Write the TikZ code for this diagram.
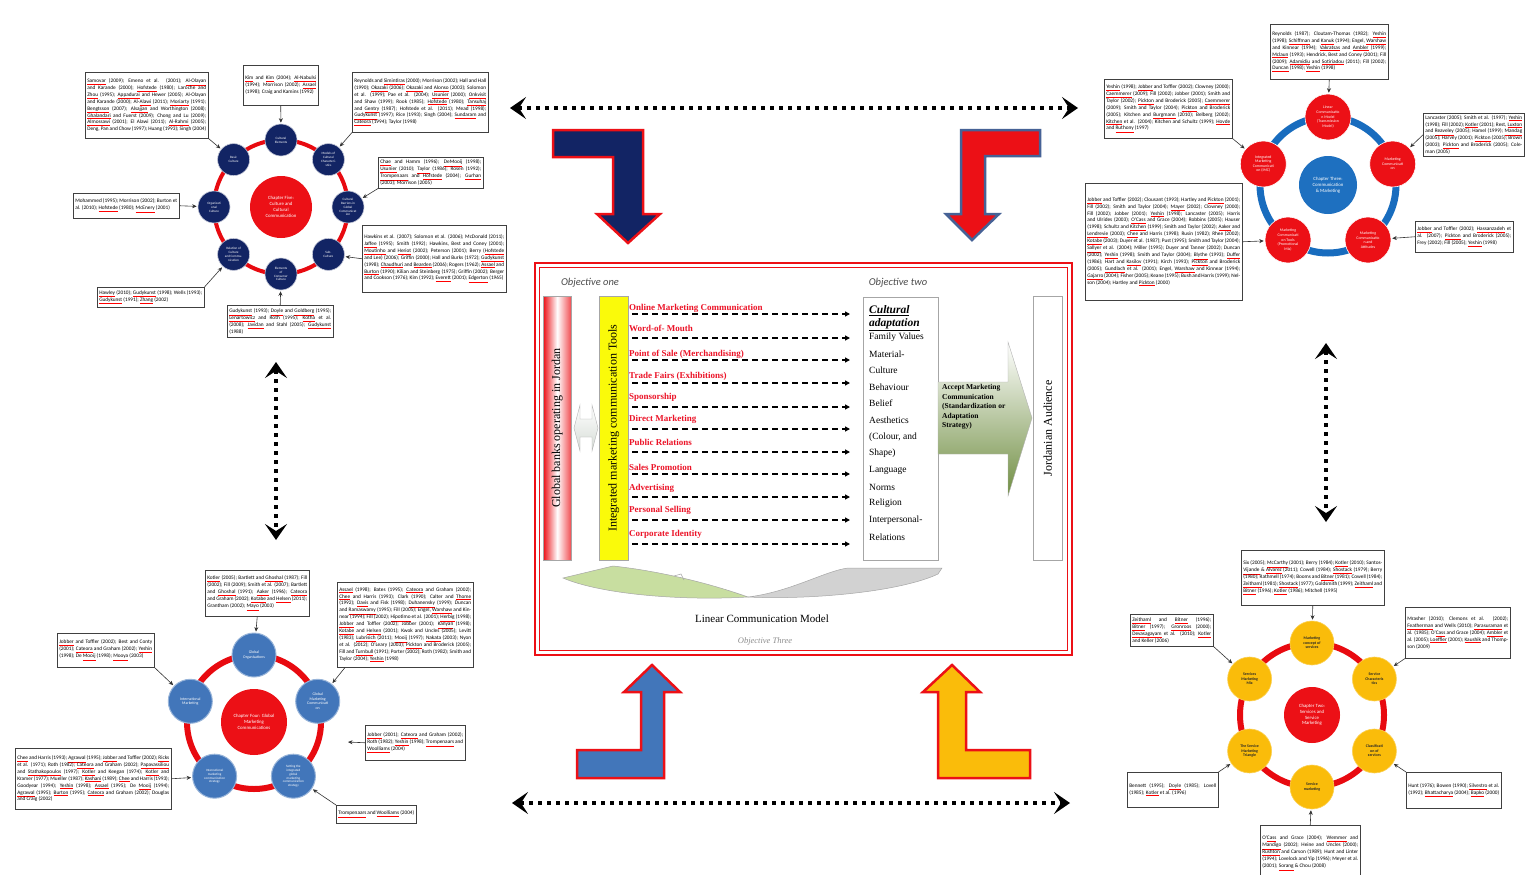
\documentclass[tikz,border=0pt]{standalone}
\usepackage{fontspec}
\setmainfont{Liberation Serif}
\newfontfamily\cfont{Carlito}
\usetikzlibrary{arrows.meta}

\definecolor{navyc}{RGB}{18,36,100}
\definecolor{redc}{RGB}{236,16,22}
\definecolor{ringred}{RGB}{232,10,16}
\definecolor{steelc}{RGB}{66,118,186}
\definecolor{ringblue}{RGB}{24,108,190}
\definecolor{coreblue}{RGB}{30,112,192}
\definecolor{goldc}{RGB}{250,188,10}
\definecolor{slateedge}{RGB}{70,98,150}
\definecolor{imcyellow}{RGB}{250,250,10}
\definecolor{leafgreen}{RGB}{200,222,160}
\definecolor{olivec}{RGB}{112,142,66}
\definecolor{toolred}{RGB}{236,20,40}

% red spell-check style underline under a black word
\newcommand\sq[1]{{\color{red}\underline{\color{black}#1}}}
\newcommand\citesize{\cfont\fontsize{5.3}{6.9}\selectfont}
\newcommand\satA{\cfont\fontsize{3.3}{3.9}\selectfont}
\newcommand\satB{\cfont\fontsize{3.9}{4.6}\selectfont}
\newcommand\coresize{\cfont\fontsize{4.8}{5.8}\selectfont}

\tikzset{
  cite/.style={draw=black!75, line width=0.5pt, fill=white, anchor=north west,
    inner sep=2pt, align=justify, font=\citesize, text width=#1},
  cref/.style={draw=black!80, line width=0.6pt, -{Stealth[length=4.5pt,width=4pt]}, shorten >=1pt},
  tlsat/.style={circle, fill=navyc, draw=white!75!navyc, line width=0.6pt, minimum size=32pt,
    inner sep=0pt, align=center, text=white, font=\satA},
  trsat/.style={circle, fill=redc, draw=white, line width=0.6pt, minimum size=46pt,
    inner sep=0pt, align=center, text=white, font=\satB},
  blsat/.style={circle, fill=steelc, draw=steelc!55!white, line width=1pt, minimum size=44pt,
    inner sep=0pt, align=center, text=white, font=\satB},
  brsat/.style={circle, fill=goldc, draw=goldc!70!white, line width=0.6pt, minimum size=44pt,
    inner sep=0pt, align=center, text=black!85, font=\satB\bfseries},
  core/.style={circle, fill=#1, inner sep=0pt, align=center, text=white, font=\coresize},
  objlbl/.style={font=\cfont\itshape\fontsize{10.5}{12}\selectfont, text=black!70},
  tool/.style={anchor=west, inner sep=0pt, font=\bfseries\fontsize{9}{10}\selectfont, text=toolred},
  culthead/.style={anchor=west, inner sep=0pt, font=\bfseries\itshape\fontsize{11.5}{13}\selectfont},
  cultitem/.style={anchor=west, inner sep=0pt, font=\fontsize{9.5}{11}\selectfont},
  dasharrow/.style={line width=1.3pt, dash pattern=on 6pt off 4pt, shorten <=4pt, shorten >=13pt,
    -{Triangle[length=5pt,width=5pt]}},
  dotarrow/.style={line width=4pt, dash pattern=on 4pt off 5pt,
    {Stealth[length=16pt,width=22pt,inset=7pt]}-{Stealth[length=16pt,width=22pt,inset=7pt]}},
  bar/.style={draw=gray!70, minimum height=264pt, anchor=north west, inner sep=0pt},
  vtext/.style={rotate=90, font=\fontsize{12}{14}\selectfont},
}

\begin{document}
\begin{tikzpicture}[x=1pt,y=-1pt]
\useasboundingbox (0,0) rectangle (1526,875);
\clip (0,0) rectangle (1526,875);
\fill[white] (0,0) rectangle (1526,875);

% ================= central framework =================
\draw[redc, line width=1.6pt] (535,263) rectangle (1072,655);
\draw[redc, line width=0.9pt] (539.5,267.5) rectangle (1067.5,650.5);

\node[objlbl] (obj1) at (590,283) {Objective one};
\node[objlbl] (obj2) at (898,283) {Objective two};

\node[bar, left color=redc, right color=redc!75, middle color=white, minimum width=28pt] (banks) at (543,296) {};
\node[vtext] (bankst) at (banks.center) {Global banks operating in Jordan};

% two-way link between banks and tools
\draw[gray!60, top color=white, bottom color=green!8!gray!30]
  (574,428) -- (580,405) -- (580,419) -- (592,419) -- (592,405) -- (598,428)
  -- (592,451) -- (592,437) -- (580,437) -- (580,451) -- cycle;

\node[bar, fill=imcyellow, minimum width=29pt] (imc) at (599,296) {};
\node[vtext] (imct) at (imc.center) {Integrated marketing communication Tools};

\node[bar, fill=white, minimum width=75pt, minimum height=263pt] (cult) at (863,297) {};
\node[culthead] (cuh1) at (869,311) {\underline{Cultural}};
\node[culthead] (cuh2) at (869,325) {\underline{adaptation}};
\foreach \t/\y [count=\i] in {Family Values/337, Material-/354, Culture/370, Behaviour/387,
    Belief/403, Aesthetics/420, {(Colour, and}/437, Shape)/453, Language/470, Norms/487,
    Religion/503, Interpersonal-/520, Relations/537}
  \node[cultitem] (cu\i) at (869,\y) {\t};

\foreach \t/\y [count=\i] in {Online Marketing Communication/308, Word-of- Mouth/328,
    Point of Sale (Merchandising)/354, Trade Fairs (Exhibitions)/376, Sponsorship/397,
    Direct Marketing/419, Public Relations/442, Sales Promotion/467, Advertising/488,
    Personal Selling/510, Corporate Identity/534}
  \node[tool] (tool\i) at (629,\y) {\t};

\foreach \y in {314,338,360,383,407,429,452,474,497,520,544}
  \draw[dasharrow] (imc.east |- 0,\y) -- (cult.west |- 0,\y);

% acceptance arrow towards the audience
\draw[gray!60, top color=white, bottom color=olivec]
  (938,382) -- (1008,382) -- (1008,342) -- (1032,418) -- (1008,496) -- (1008,454) -- (938,454) -- cycle;
\node[font=\bfseries\fontsize{7.5}{9.6}\selectfont, align=left, anchor=north west, inner sep=0pt] (accept)
  at (942,384) {Accept Marketing\\Communication\\(Standardization or\\Adaptation\\Strategy)};

\node[bar, fill=white, minimum width=29pt] (aud) at (1033,296) {};
\node[vtext] (audt) at (aud.center) {Jordanian Audience};

% feedback swoosh
\draw[gray!70, fill=leafgreen, line width=0.5pt]
  (563,578) -- (613,566) .. controls (650,570) and (700,580) .. (748,597)
  .. controls (680,601) and (600,594) .. cycle;
\draw[gray!70, line width=0.5pt] (674,576) -- (681,574) -- (684,580);
\draw[gray!70, fill=gray!35, line width=0.5pt]
  (748,597) .. controls (790,592) and (825,571) .. (848,568) -- (942,568) -- (938,574)
  .. controls (900,592) and (810,600) .. cycle;

\node[font=\fontsize{11}{13}\selectfont] (lcm) at (762,619) {Linear Communication Model};
\node[font=\itshape\fontsize{8.5}{10}\selectfont, text=black!45] (obj3) at (765,641) {Objective Three};

% ================= linking arrows =================
\draw[redc, line width=2.5pt, fill=navyc, line join=miter]
  (553,130) -- (643,130) -- (643,214) -- (660,214) -- (628,243) -- (597,214) -- (613,214)
  -- (613,157) -- (553,157) -- cycle;
\draw[slateedge, line width=2.5pt, fill=redc, line join=miter]
  (1040,130) -- (961,130) -- (961,214) -- (946,214) -- (972,240) -- (999,214) -- (985,214)
  -- (985,156) -- (1040,156) -- cycle;
\draw[redc, line width=2.5pt, fill=steelc, line join=miter]
  (652,665) -- (680,692) -- (664,692) -- (664,778) -- (577,778) -- (577,750) -- (641,750)
  -- (641,692) -- (624,692) -- cycle;
\draw[redc, line width=2.5pt, fill=goldc, line join=miter]
  (952,665) -- (980,692) -- (966,692) -- (966,750) -- (1030,750) -- (1030,778) -- (938,778)
  -- (938,692) -- (923,692) -- cycle;

\coordinate (topL) at (510,108);  \coordinate (topR) at (1078,108);
\coordinate (botL) at (512,803);  \coordinate (botR) at (1070,803);
\coordinate (lefT) at (276,362);  \coordinate (lefB) at (276,540);
\coordinate (rigT) at (1326,343); \coordinate (rigB) at (1326,522);
\draw[dotarrow] (topL) -- (topR);
\draw[dotarrow] (botL) -- (botR);
\draw[dotarrow] (lefT) -- (lefB);
\draw[dotarrow] (rigT) -- (rigB);

% ================= culture cluster (top left) =================
\coordinate (tlo) at (281,207);
\draw[ringred, line width=4pt] (tlo) circle[radius=67pt];
\node[core=redc, minimum size=62pt] (tlc) at (tlo) {Chapter Five:\\Culture and\\Cultural\\Communication};
\node[tlsat] (tl1) at (281,140) {Cultural\\Elements};
\node[tlsat] (tl2) at (328.4,159.6) {Models of\\Cultural\\Characteri-\\stics};
\node[tlsat] (tl3) at (348,207) {Cultural\\Barriers in\\Global\\Communicat\\ion};
\node[tlsat] (tl4) at (328.4,254.4) {Sub-\\Culture};
\node[tlsat] (tl5) at (281,274) {Elements\\of\\Consumer\\Culture};
\node[tlsat] (tl6) at (233.6,254.4) {Relation of\\Culture\\and Commu-\\nication};
\node[tlsat] (tl7) at (214,207) {Organizati\\onal\\Culture};
\node[tlsat] (tl8) at (233.6,159.6) {Basic\\Culture};

\node[cite=119pt, minimum height=66pt] (ca) at (85,72) {\sq{Samovar} (2009); Emeno et al. (2001); \sq{Al-Olayan} and Karande (2000); \sq{Hofstede} (1980); Laroche and \sq{Zhou} (1995); \sq{Appadurai} and Hewer (2005); Al-Olayan and Karande (2000); Al-\sq{Alawi} (2011); \sq{Moriarty} (1991); \sq{Bengtsson} (2007); \sq{Alsajjan} and Worthington (2008); \sq{Ghalandari} and Fuerst (2009); Chong and Lu (2009); \sq{Almossawi} (2001); El Alawi (2011); \sq{Al-Rahmi} (2005); Deng, Pan and Chow (1997); Huang (1993); Singh (2004)};
\node[cite=71pt, minimum height=40pt] (cb) at (243,65) {\sq{Kim} and \sq{Kim} (2004); \sq{Al-Nabulsi} (1994); Morrison (2002); \sq{Assael} (1998); Craig and Kamins (1992)};
\node[cite=132pt, minimum height=60pt] (cc) at (352,72) {Reynolds and \sq{Simintiras} (2000); Morrison (2002); Hall and Hall (1990); \sq{Okazaki} (2006); \sq{Okazaki} and \sq{Alonso} (2003); Solomon et al. (1999); Pae et al. (2004); \sq{Usunier} (2000); \sq{Onkvisit} and Shaw (1999); Rook (1985); \sq{Hofstede} (1980); \sq{Tansuhaj} and \sq{Gentry} (1987); Hofstede et al. (2011); Mead (1998); \sq{Gudykunst} (1997); Rice (1993); Singh (2004); \sq{Sundaram} and \sq{Cateora} (1994); Taylor (1998)};
\node[cite=101pt, minimum height=31pt] (cd) at (378,157) {\sq{Chae} and Hamm (1996); \sq{DeMooij} (1998); \sq{Usunier} (2010); \sq{Taylor} (1986); Rosen (1992); \sq{Trompenaars} and \sq{Hofstede} (2004); \sq{Gurhan} (2003); Morrison (2005)};
\node[cite=140pt, minimum height=67pt] (ce) at (362,225) {Hawkins et al. (2007); Solomon et al. (2006); McDonald (2011); \sq{Jaffee} (1995); Smith (1992); Hawkins, Best and Coney (2001); \sq{Moutinho} and \sq{Heriot} (2002); Peterson (2001); Berry (\sq{Hofstede} and Lee) (2006); Griffin (2000); Hall and Burks (1972); \sq{Gudykunst} (1998); \sq{Chaudhuri} and \sq{Bearden} (2006); Rogers (1962); \sq{Assael} and \sq{Burton} (1990); Kilian and Steinberg (1975); Griffin (2002); Berger and Cookson (1976); Kim (1992); \sq{Everett} (2001); \sq{Edgerton} (1965)};
\node[cite=102pt, minimum height=25pt] (cf) at (73,193) {Mohammed (1995); Morrison (2002); Burton et al. (2010); \sq{Hofstede} (1980); \sq{McEnery} (2001)};
\node[cite=103pt, minimum height=20pt] (cg) at (97,287) {\sq{Hawley} (2010); \sq{Gudykunst} (1998); Wells (1993); \sq{Gudykunst} (1991); \sq{Zhang} (2002)};
\node[cite=102pt, minimum height=32pt] (ch) at (227,305) {\sq{Gudykunst} (1993); \sq{Doyle} and \sq{Goldberg} (1995); \sq{Lenartowicz} and Roth (1995); \sq{Kotha} et al. (2008); \sq{Javidan} and Stahl (2005); \sq{Gudykunst} (1988)};

\draw[cref] (ca.south east) -- (tl8);
\draw[cref] (cb.south) -- (tl1);
\draw[cref] (cc.south west) -- (tl2);
\draw[cref] (cd.south west) -- (tl3);
\draw[cref] (ce.west) -- (tl4);
\draw[cref] (cf.east) -- (tl7);
\draw[cref] (cg.north east) -- (tl6);
\draw[cref] (ch.north) -- (tl5);

% ================= communication cluster (top right) =================
\coordinate (tro) at (1328,185);
\draw[ringblue, line width=7pt] (tro) circle[radius=68pt];
\node[core=coreblue, minimum size=58pt] (trc) at (tro) {Chapter Three:\\Communication\\\& Marketing};
\node[trsat] (tr1) at (1328,117) {Linear\\Communicatio\\n Model\\(Transmission\\Model)};
\node[trsat] (tr2) at (1392.7,164) {Marketing\\Communicati\\on};
\node[trsat] (tr3) at (1368,240) {Marketing\\Communicatio\\n and\\Attitudes};
\node[trsat] (tr4) at (1288,240) {Marketing\\Communicati\\on Tools\\(Promotional\\Mix)};
\node[trsat] (tr5) at (1263.3,164) {Integrated\\Marketing\\Communicati\\on (IMC)};

\node[cite=114pt, minimum height=55pt] (cr1) at (1270,24) {Reynolds (1987); Cloutam-Thomas (1982); \sq{Yeshin} (1998); \sq{Schiffman} and \sq{Kanuk} (1994); Engel, \sq{Warshaw} and Kinnear (1994); \sq{Vakratsas} and \sq{Ambler} (1999); \sq{Mclaun} (1993); Hendrick, Best and Coney (2001); Fill (2009); \sq{Adamidiu} and \sq{Sotiriadou} (2011); Fill (2002); \sq{Duncan} (1998); \sq{Yeshin} (1998)};
\node[cite=124pt, minimum height=59pt] (cr2) at (1104,79) {\sq{Yeshin} (1998); \sq{Jobber} and Toffler (2002); Clowney (2000); \sq{Caemmerer} (2009); Fill (2002); Jobber (2001); Smith and Taylor (2002); \sq{Pickton} and Broderick (2005); \sq{Caemmerer} (2009); Smith and Taylor (2004); \sq{Pickton} and Broderick (2005); Kitchen and \sq{Burgmann} (2010); Belberg (2002); \sq{Kitchen} et al. (2004); Kitchen and Schultz (1999); \sq{Hovde} and \sq{Ruthony} (1997)};
\node[cite=97pt, minimum height=43pt] (cr3) at (1423,113) {Lancaster (2005); Smith et al. (1997); \sq{Yeshin} (1998); Fill (2002); \sq{Kotler} (2001); Rest, \sq{Luxton} and \sq{Reaveley} (2005); Hamel (1999); \sq{Mandag} (2005); Harvey (2001); \sq{Pickton} (2005); Brown (2003); \sq{Pickton} and Broderick (2005); Coleman (2005)};
\node[cite=153pt, minimum height=117pt] (cr4) at (1085,183) {\sq{Jobber} and Toffler (2002); Clousant (1993); Hartley and \sq{Pickton} (2001); Fill (2002); Smith and Taylor (2004); \sq{Mayer} (2002); Clowney (2000); Fill (2002); Jobber (2001); \sq{Yeshin} (1998); Lancaster (2005); Harris and Ulrides (2003); \sq{O'Cass} and Grace (2004); Robbins (2005); Hauser (1998); Schultz and \sq{Kitchen} (1999); Smith and Taylor (2002); \sq{Aaker} and \sq{Lendrevie} (2003); \sq{Chee} and Harris (1998); Rusin (1982); Rhee (2002); \sq{Kotabe} (2003); Duyer et al. (1987); Pust (1995); Smith and Taylor (2004); \sq{Sallyer} et al. (2004); Miller (1995); Duyer and Tanner (2002); Duncan (2002); \sq{Yeshin} (1998); Smith and Taylor (2004); \sq{Blythe} (1993); \sq{Duffer} (1986); Hart and \sq{Kasilov} (1991); Kirch (1993); \sq{Pickton} and Broderick (2005); \sq{Gundlach} et al. (2001); Engel, \sq{Warshaw} and Kinnear (1994); \sq{Gajarro} (2004); Fisher (2005); Keane (1995); Bush and Harris (1999); Nelson (2004); Hartley and \sq{Pickton} (2000)};
\node[cite=94pt, minimum height=31pt] (cr5) at (1415,221) {\sq{Jobber} and Toffler (2002); \sq{Hassanzadeh} et al. (2007); \sq{Pickton} and Broderick (2005); Frey (2002); Fill (2005); \sq{Yeshin} (1998)};

\draw[cref] (cr1.south) -- (tr1);
\draw[cref] (cr2.south east) -- (tr5);
\draw[cref] (cr3.west) -- (tr2);
\draw[cref] (cr4.east) -- (tr4);
\draw[cref] (cr5.west) -- (tr3);

% ================= global marketing cluster (bottom left) =================
\coordinate (blo) at (254,722);
\draw[ringred, line width=6pt] (blo) circle[radius=67pt];
\node[core=redc, minimum size=66pt] (blc) at (blo) {Chapter Four: Global\\Marketing\\Communications};
\node[blsat] (bl1) at (254,655) {Global\\Organisations};
\node[blsat] (bl2) at (317.7,701.3) {Global\\Marketing\\Communicati\\on};
\node[blsat, font=\satA] (bl3) at (293.4,776.2) {Setting the\\integrated\\global\\marketing\\communication\\strategy};
\node[blsat, font=\satA] (bl4) at (214.6,776.2) {International\\marketing\\communication\\strategy};
\node[blsat] (bl5) at (190.3,701.3) {International\\Marketing};

\node[cite=100pt, minimum height=46pt] (cl1) at (205,570) {\sq{Kotler} (2005); Bartlett and \sq{Ghoshal} (1987); Fill (2002); Fill (2009); Smith et al. (2007); Bartlett and \sq{Ghoshal} (1991); \sq{Aaker} (1996); \sq{Cateora} and Graham (2002); \sq{Kotabe} and \sq{Helsen} (2011); Grantham (2002); \sq{Mayo} (2003)};
\node[cite=132pt, minimum height=85pt] (cl2) at (337,582) {\sq{Assael} (1998); Bates (1995); \sq{Cateora} and Graham (2002); \sq{Chee} and Harris (1993); Clark (1990); Calter and \sq{Thome} (1992); \sq{Davis} and Fisk (1998); \sq{Duhanensky} (1999); Duncan and \sq{Ramaswamy} (1995); Fill (2005); Engel, \sq{Warshaw} and Kinnear (1994); Fill (2002); \sq{Hipotimo} et al. (2001); \sq{Herbig} (1998); \sq{Jobber} and Toffler (2002); Jobber (2001); \sq{Kanyan} (1998); \sq{Kotabe} and \sq{Helsen} (2001); Kwok and Uncles (2005); Levitt (1983); \sq{Lubrisich} (2011); \sq{Mooij} (1997); \sq{Nakata} (2003); Nyon et al. (2012); O'Leary (2003); \sq{Pickton} and Broderick (2005); Fill and \sq{Turnbull} (1991); Porter (2002); Roth (1982); Smith and Taylor (2004); \sq{Yeshin} (1998)};
\node[cite=93pt, minimum height=34pt] (cl3) at (57,633) {\sq{Jobber} and Toffler (2002); Best and Conty (2001); \sq{Cateora} and Graham (2002); \sq{Yeshin} (1998); De \sq{Mooij} (1998); \sq{Mooya} (2003)};
\node[cite=152pt, minimum height=61pt] (cl4) at (15,748) {\sq{Chee} and Harris (1993); \sq{Agrawal} (1995); \sq{Jobber} and Toffler (2002); \sq{Ricks} et al. (1971); Roth (1982); \sq{Cateora} and Graham (2002); \sq{Papavassiliou} and \sq{Stathakopoulos} (1997); \sq{Kotler} and Keegan (1974); \sq{Kotler} and Kramer (1977); Mueller (1987); \sq{Kashani} (1989); \sq{Chee} and Harris (1993); Goodyear (1994); \sq{Yeshin} (1998); \sq{Assael} (1995); De \sq{Mooij} (1994); \sq{Agrawal} (1995); \sq{Burton} (1995); \sq{Cateora} and Graham (2002); Douglas and Craig (2002)};
\node[cite=96pt, minimum height=35pt] (cl5) at (365,725) {\sq{Jobber} (2001); \sq{Cateora} and Graham (2002); Roth (1982); \sq{Yeshin} (1998); \sq{Trompenaars} and \sq{Woolliams} (2004)};
\node[cite=76pt, minimum height=18pt] (cl6) at (336,805) {\sq{Trompenaars} and \sq{Woolliams} (2004)};

\coordinate (cl5tip) at (347,742);
\draw[cref] (cl1.south) -- (bl1);
\draw[cref] ([xshift=8pt]cl2.south west) -- (bl2);
\draw[cref] (cl3.south east) -- (bl5);
\draw[cref] (cl4.east) -- (bl4);
\draw[cref] (cl5.west) -- (cl5tip);
\draw[cref] (cl6.north west) -- (bl3);

% ================= services cluster (bottom right) =================
\coordinate (bro) at (1312,715);
\draw[ringred, line width=6pt] (bro) circle[radius=72pt];
\node[core=redc, minimum size=56pt] (brc) at (bro) {Chapter Two:\\Services and\\Service\\Marketing};
\node[brsat] (br1) at (1312,643) {Marketing\\concept of\\services};
\node[brsat] (br2) at (1374.4,679) {Service\\Characteris\\tics};
\node[brsat] (br3) at (1374.4,751) {Classificati\\on of\\services};
\node[brsat] (br4) at (1312,787) {Service\\marketing};
\node[brsat] (br5) at (1249.6,751) {The Service\\Marketing\\Triangle};
\node[brsat] (br6) at (1249.6,679) {Services\\Marketing\\Mix};

\node[cite=139pt, minimum height=55pt] (cs1) at (1241,550) {Six (2005); \sq{McCarthy} (2001); Berry (1984); \sq{Kotler} (2010); Santos-\sq{Vijande} \& \sq{Alvarez} (2011); Cowell (1984); \sq{Shostack} (1979); Berry (1980); Rathmell (1974); Booms and \sq{Bitner} (1981); Cowell (1984); \sq{Zeithaml} (1981); \sq{Shostack} (1977); Goldsmith (1999); \sq{Zeithaml} and \sq{Bitner} (1996); \sq{Kotler} (1986); Mitchell (1995)};
\node[cite=79pt, minimum height=32pt] (cs2) at (1130,614) {\sq{Zeithaml} and \sq{Bitner} (1996); \sq{Bitner} (1997); \sq{Gronroos} (2000); \sq{Devasagayam} et al. (2010); \sq{Kotler} and Keller (2006)};
\node[cite=101pt, minimum height=51pt] (cs3) at (1405,607) {Mrasher (2010); Clemons et al. (2002); \sq{Featherman} and Wells (2010); \sq{Parasuraman} et al. (1985); O'\sq{Cass} and Grace (2004); \sq{Ambler} et al. (2005); \sq{Loeffler} (2001); \sq{Kaushik} and Thompson (2009)};
\node[cite=87pt, minimum height=35pt] (cs4) at (1127,772) {Bennett (1995); \sq{Doyle} (1985); Lovell (1985); \sq{Kotler} et al. (1996)};
\node[cite=91pt, minimum height=36pt] (cs5) at (1406,772) {Hunt (1976); Bowen (1990); \sq{Silvestro} et al. (1992); \sq{Bhattacharya} (2004); \sq{Bapko} (2000)};
\node[cite=96pt, minimum height=56pt] (cs6) at (1260,825) {O'\sq{Cass} and Grace (2004); \sq{Wemmer} and \sq{Mandigo} (2002); Heine and Uncles (2000); \sq{Rushton} and Carson (1989); Hunt and Linter (1994); Lovelock and Yip (1996); Meyer et al. (2001); \sq{Sorang} \& Chou (2008)};

\draw[cref] (cs1.south) -- (br1);
\draw[cref] (cs2.south east) -- (br6);
\draw[cref] (cs3.south west) -- (br2);
\draw[cref] (cs4.north east) -- (br5);
\draw[cref] (cs5.north west) -- (br3);
\draw[cref] (cs6.north) -- (br4);

\end{tikzpicture}
\end{document}
